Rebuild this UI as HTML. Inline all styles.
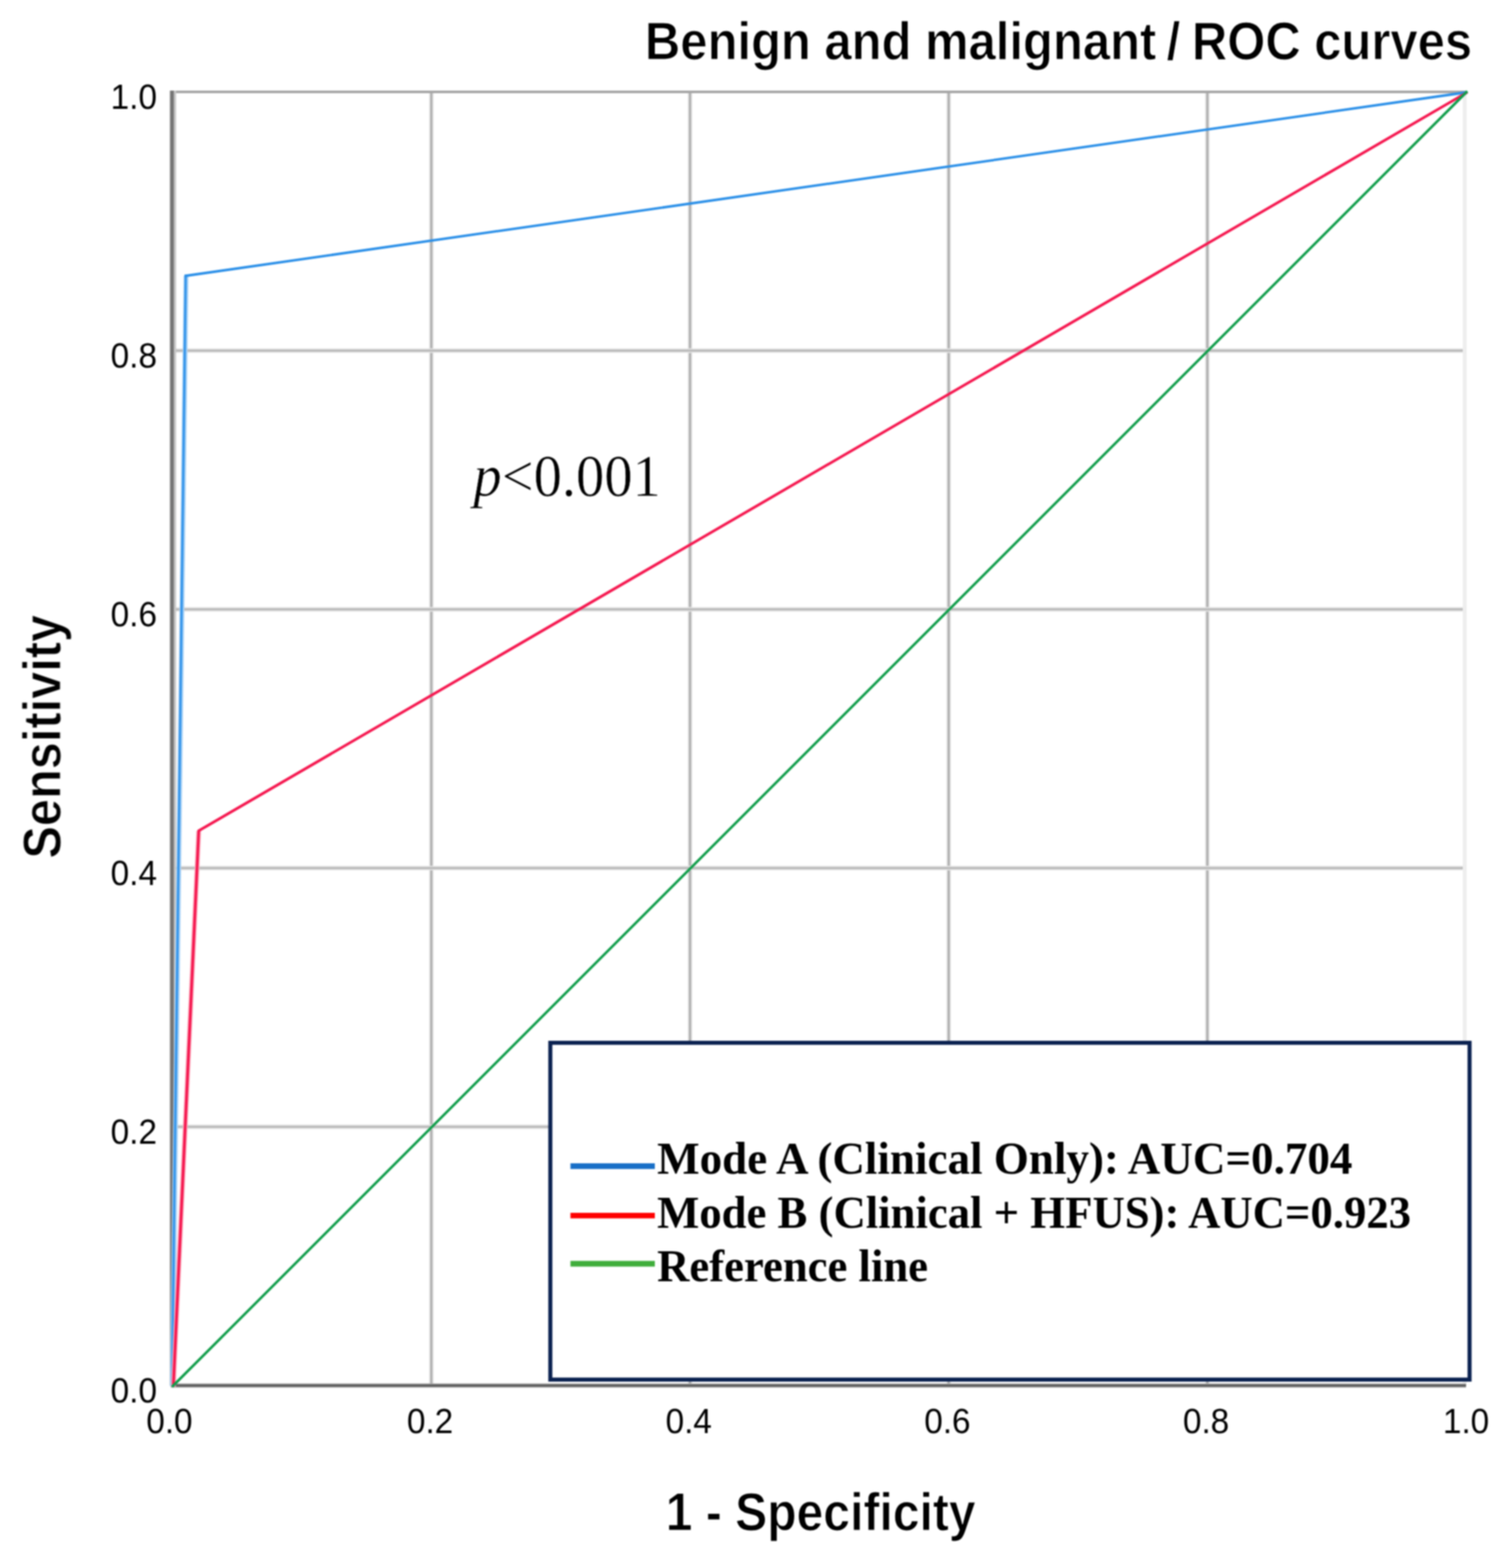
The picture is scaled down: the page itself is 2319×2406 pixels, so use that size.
<!DOCTYPE html>
<html lang="en">
<head>
<meta charset="utf-8">
<title>Benign and malignant / ROC curves</title>
<style>
  html, body { margin: 0; padding: 0; background: #ffffff; }
  body { width: 2319px; height: 2406px; overflow: hidden; }
  svg { display: block; }
  .sans { font-family: "Liberation Sans", sans-serif; }
  .serif { font-family: "Liberation Serif", serif; }
  .bold { font-weight: bold; }
  .thin { stroke: #ffffff; stroke-width: 1.1px; paint-order: fill stroke; stroke-linejoin: round; }
  .thin2 { stroke: #ffffff; stroke-width: 0.7px; paint-order: fill stroke; stroke-linejoin: round; }
  text { fill: #000000; }
</style>
</head>
<body>
<svg width="2319" height="2406" viewBox="0 0 2319 2406">
<defs>
  <filter id="soft" x="0" y="0" width="2319" height="2406" filterUnits="userSpaceOnUse" color-interpolation-filters="sRGB"><feGaussianBlur stdDeviation="0.9"/></filter>
  <filter id="soft2" x="0" y="0" width="2319" height="2406" filterUnits="userSpaceOnUse" color-interpolation-filters="sRGB"><feGaussianBlur stdDeviation="0.9"/></filter>
</defs>
<rect x="0" y="0" width="2319" height="2406" fill="#ffffff"/>

<g id="plot" filter="url(#soft)">
<g id="grid" fill="none">
<line x1="662.0" y1="141.0" x2="662.0" y2="2126.0" stroke="#e8e8e8" stroke-width="7"/>
<line x1="662.0" y1="141.0" x2="662.0" y2="2126.0" stroke="#b0b0b0" stroke-width="3.6"/>
<line x1="1059.0" y1="141.0" x2="1059.0" y2="2126.0" stroke="#e8e8e8" stroke-width="7"/>
<line x1="1059.0" y1="141.0" x2="1059.0" y2="2126.0" stroke="#b0b0b0" stroke-width="3.6"/>
<line x1="1456.0" y1="141.0" x2="1456.0" y2="2126.0" stroke="#e8e8e8" stroke-width="7"/>
<line x1="1456.0" y1="141.0" x2="1456.0" y2="2126.0" stroke="#b0b0b0" stroke-width="3.6"/>
<line x1="1853.0" y1="141.0" x2="1853.0" y2="2126.0" stroke="#e8e8e8" stroke-width="7"/>
<line x1="1853.0" y1="141.0" x2="1853.0" y2="2126.0" stroke="#b0b0b0" stroke-width="3.6"/>
<line x1="263.0" y1="1729.0" x2="2250.0" y2="1729.0" stroke="#e8e8e8" stroke-width="7"/>
<line x1="265.0" y1="1729.0" x2="2250.0" y2="1729.0" stroke="#bababa" stroke-width="3.6"/>
<line x1="263.0" y1="1332.0" x2="2250.0" y2="1332.0" stroke="#e8e8e8" stroke-width="7"/>
<line x1="265.0" y1="1332.0" x2="2250.0" y2="1332.0" stroke="#bababa" stroke-width="3.6"/>
<line x1="263.0" y1="935.0" x2="2250.0" y2="935.0" stroke="#e8e8e8" stroke-width="7"/>
<line x1="265.0" y1="935.0" x2="2250.0" y2="935.0" stroke="#bababa" stroke-width="3.6"/>
<line x1="263.0" y1="538.0" x2="2250.0" y2="538.0" stroke="#e8e8e8" stroke-width="7"/>
<line x1="265.0" y1="538.0" x2="2250.0" y2="538.0" stroke="#bababa" stroke-width="3.6"/>
<line x1="261.0" y1="141.0" x2="2250.0" y2="141.0" stroke="#a6a6a6" stroke-width="3.8"/>
<line x1="2248" y1="141.0" x2="2248" y2="2126.0" stroke="#eeeeee" stroke-width="6"/>
</g>
<g id="axes" fill="none">
<line x1="265.3" y1="139.0" x2="265.3" y2="2126.0" stroke="#c6c6c6" stroke-width="10"/>
<line x1="264" y1="139.0" x2="264" y2="2126.0" stroke="#747474" stroke-width="5.5"/>
<line x1="262.0" y1="2126" x2="2250.0" y2="2126" stroke="#a8a8a8" stroke-width="6.5"/>
<line x1="262.0" y1="2126" x2="2250.0" y2="2126" stroke="#5c5c5c" stroke-width="3.5"/>
</g>
<g id="curves" fill="none" stroke-linejoin="miter" stroke-linecap="butt">
<polyline points="264.5,2127.0 285.5,423.2" stroke="#a9d2f6" stroke-width="7.5"/>
<polyline points="264,2127.0 285,423.2 287,422.9" stroke="#3394ea" stroke-width="3.6"/>
<polyline points="283.2,423.5 2252.0,141.5" stroke="#2a8fe8" stroke-width="3.8"/>
<polyline points="266,2128.0 305,1274.8" stroke="#fcb0c1" stroke-width="7.5"/>
<polyline points="266,2128.0 305,1274.8 2252.0,141.5" stroke="#f5174f" stroke-width="4.2"/>
<polyline points="264.0,2128.0 2252.0,140.0" stroke="#109d4a" stroke-width="3.9"/>
</g>
</g>
<g id="legend" filter="url(#soft2)">
<rect x="844.6" y="1600.1" width="1410.8" height="516.8" fill="#ffffff" stroke="#0a2150" stroke-width="6.2"/>
<line x1="875.5" y1="1789.4" x2="1005" y2="1789.4" stroke="#186fc7" stroke-width="8.6"/>
<line x1="875.5" y1="1865.2" x2="1005" y2="1865.2" stroke="#ff0000" stroke-width="8.6"/>
<line x1="875.5" y1="1939.1" x2="1005" y2="1939.1" stroke="#40ae3c" stroke-width="8.6"/>
<text class="serif bold" transform="translate(1008.5,1801.3) scale(0.988,1.0)" font-size="70" text-anchor="start">Mode A (Clinical Only): AUC=0.704</text>
<text class="serif bold" transform="translate(1008.5,1883.7) scale(0.9805,1.0)" font-size="70" text-anchor="start">Mode B (Clinical + HFUS): AUC=0.923</text>
<text class="serif bold" transform="translate(1008.5,1965.5) scale(0.98,1.0)" font-size="70" text-anchor="start">Reference line</text>
</g>
<g id="labels" filter="url(#soft2)">
<text class="sans" transform="translate(241,2152.3) scale(0.985,1.03)" font-size="52" text-anchor="end">0.0</text>
<text class="sans" transform="translate(241,1755.3) scale(0.985,1.03)" font-size="52" text-anchor="end">0.2</text>
<text class="sans" transform="translate(241,1358.3) scale(0.985,1.03)" font-size="52" text-anchor="end">0.4</text>
<text class="sans" transform="translate(241,961.3) scale(0.985,1.03)" font-size="52" text-anchor="end">0.6</text>
<text class="sans" transform="translate(241,564.3) scale(0.985,1.03)" font-size="52" text-anchor="end">0.8</text>
<text class="sans" transform="translate(241,167.3) scale(0.985,1.03)" font-size="52" text-anchor="end">1.0</text>
<text class="sans" transform="translate(260.0,2198.5) scale(0.985,1.03)" font-size="52" text-anchor="middle">0.0</text>
<text class="sans" transform="translate(660.0,2198.5) scale(0.985,1.03)" font-size="52" text-anchor="middle">0.2</text>
<text class="sans" transform="translate(1057.0,2198.5) scale(0.985,1.03)" font-size="52" text-anchor="middle">0.4</text>
<text class="sans" transform="translate(1454.0,2198.5) scale(0.985,1.03)" font-size="52" text-anchor="middle">0.6</text>
<text class="sans" transform="translate(1851.0,2198.5) scale(0.985,1.03)" font-size="52" text-anchor="middle">0.8</text>
<text class="sans" transform="translate(2250.0,2198.5) scale(0.985,1.03)" font-size="52" text-anchor="middle">1.0</text>
<text class="sans bold thin" transform="translate(2259.3,91.3) scale(1.002,1.09)" font-size="75" text-anchor="end">Benign and malignant<tspan dx="-5"> /</tspan><tspan dx="-3"> ROC curves</tspan></text>
<text class="sans bold thin" transform="translate(1259.5,2348.3) scale(0.984,1.09)" font-size="75" text-anchor="middle">1 - Specificity</text>
<text class="sans bold thin" transform="translate(93,1130.5) rotate(-90) scale(0.997,1.09)" font-size="75" text-anchor="middle">Sensitivity</text>
</g>
<g id="pvalue" filter="url(#soft2)">
<text class="serif thin2" transform="translate(726.5,760.6) scale(0.944,1.0)" font-size="92" text-anchor="start"><tspan font-style="italic">p</tspan>&lt;0.001</text>
</g>
</svg>
</body>
</html>
